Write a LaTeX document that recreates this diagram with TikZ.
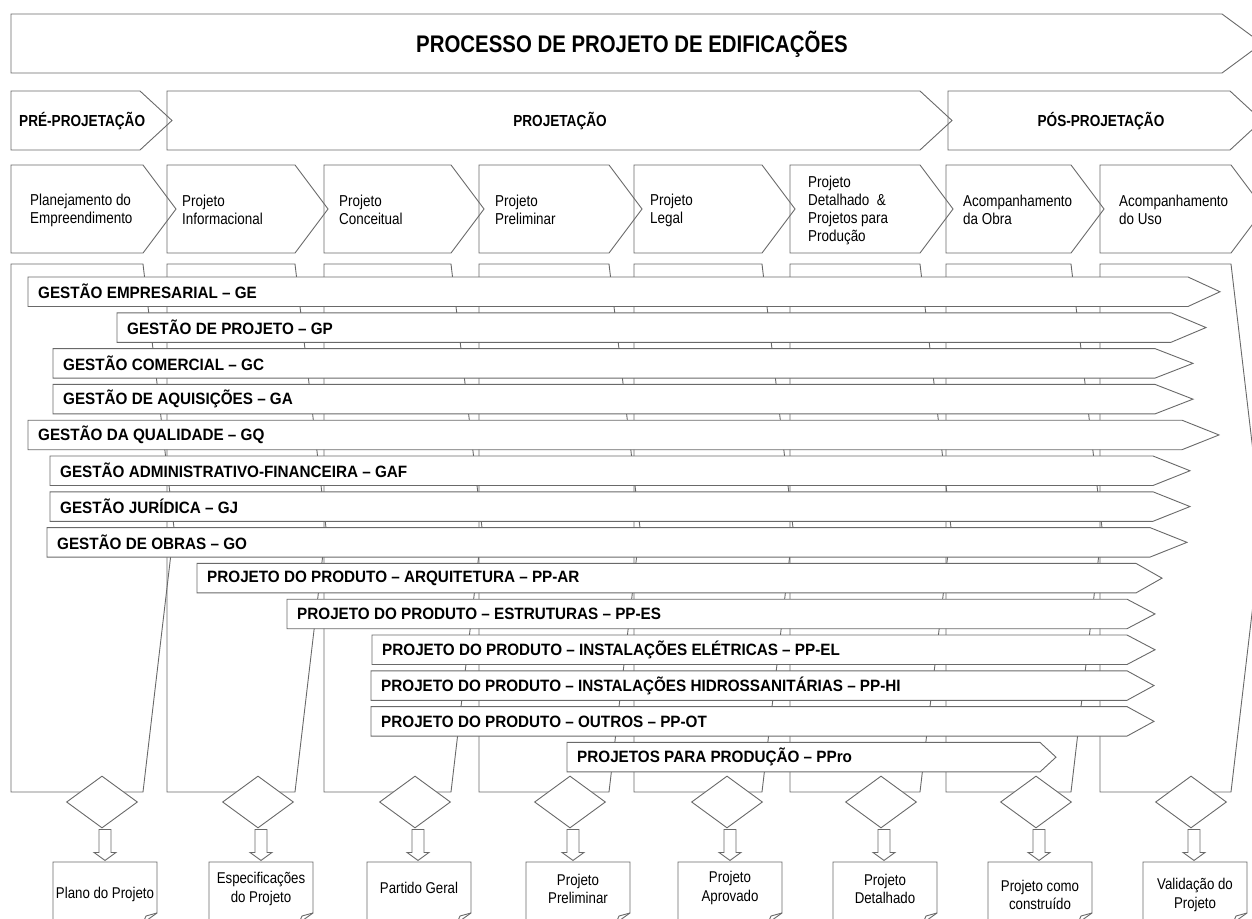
\documentclass[tikz,border=0pt]{standalone}
\usepackage{fontspec}
\setmainfont{Liberation Sans}
\newfontfamily\condf[FakeStretch=0.85]{Liberation Sans}
\newfontfamily\barf[FakeStretch=0.93]{Liberation Sans}
\usetikzlibrary{shapes.geometric,calc}
\definecolor{ln}{RGB}{105,105,105}
\begin{document}
\begin{tikzpicture}[x=1bp,y=-1bp,
  outline/.style={draw=ln,line width=0.9bp,line join=miter},
  shp/.style={outline,fill=white},
  titletext/.style={font=\condf\bfseries\fontsize{24bp}{28bp}\selectfont,inner sep=0},
  phasetext/.style={font=\condf\bfseries\fontsize{16bp}{19bp}\selectfont,inner sep=0},
  steptext/.style={font=\condf\fontsize{15.8bp}{18bp}\selectfont,align=left,inner sep=0,anchor=west},
  bartext/.style={font=\barf\bfseries\fontsize{16.4bp}{19bp}\selectfont,inner sep=0,anchor=west},
  doctext/.style={font=\condf\fontsize{15.6bp}{18.5bp}\selectfont,align=center,inner sep=0},
  gate/.style={diamond,shp,aspect=1.365,minimum width=71bp,minimum height=52bp,inner sep=0}]
\useasboundingbox (0,0) rectangle (1252,919);
\clip (0,0) rectangle (1252,919);

% title banner
\draw[outline] (11,14) -- (1222,14) -- (1262,43.5) -- (1222,73) -- (11,73) -- cycle;
\node[titletext] (title) at (632,44) {PROCESSO DE PROJETO DE EDIFICAÇÕES};

% phase banners
\draw[outline] (11,91) -- (140,91) -- (172,120.5) -- (140,150) -- (11,150) -- cycle;
\draw[outline] (167,91) -- (920,91) -- (952,120.5) -- (920,150) -- (167,150) -- cycle;
\draw[outline] (948,91) -- (1230,91) -- (1262,120.5) -- (1230,150) -- (948,150) -- cycle;
\node[phasetext,anchor=west] (pre) at (19,121) {PRÉ-PROJETAÇÃO};
\node[phasetext] (proj) at (560,121) {PROJETAÇÃO};
\node[phasetext] (pos) at (1101,121) {PÓS-PROJETAÇÃO};

% stage chevrons and the tall stage columns behind the activity bars
\foreach \i/\L/\R in {1/11/143,2/167/295,3/324/451,4/479/609,5/634/762,6/790/920,7/946/1071,8/1100/1231}{
  \draw[outline] (\L,165) -- (\R,165) -- (\R+33,209) -- (\R,253) -- (\L,253) -- cycle;
  \draw[outline] (\L,264) -- (\R,264) -- (\R+31,528) -- (\R,792) -- (\L,792) -- cycle;
}

% stage names
\foreach \i/\x/\txt in {1/30/{Planejamento do\\Empreendimento},
                        2/182/{Projeto\\Informacional},
                        3/339/{Projeto\\Conceitual},
                        4/495/{Projeto\\Preliminar},
                        5/650/{Projeto\\Legal},
                        6/808/{Projeto\\Detalhado\ \ \&\\Projetos para\\Produção},
                        7/963/{Acompanhamento\\da Obra},
                        8/1119/{Acompanhamento\\do Uso}}{
  \node[steptext] (stage\i) at (\x,210) {\txt};
}

% activity bars
\foreach \k/\L/\B/\T/\txt in {
   0/28/1188/1220/{GESTÃO EMPRESARIAL – GE},
   1/117/1171/1206/{GESTÃO DE PROJETO – GP},
   2/53/1155/1193/{GESTÃO COMERCIAL – GC},
   3/53/1155/1193/{GESTÃO DE AQUISIÇÕES – GA},
   4/28/1182/1219/{GESTÃO DA QUALIDADE – GQ},
   5/50/1153/1190/{GESTÃO ADMINISTRATIVO-FINANCEIRA – GAF},
   6/50/1153/1190/{GESTÃO JURÍDICA – GJ},
   7/47/1150/1187/{GESTÃO DE OBRAS – GO},
   8/197/1136/1162/{PROJETO DO PRODUTO – ARQUITETURA – PP-AR},
   9/287/1127/1155/{PROJETO DO PRODUTO – ESTRUTURAS – PP-ES},
   10/372/1127/1155/{PROJETO DO PRODUTO – INSTALAÇÕES ELÉTRICAS – PP-EL},
   11/371/1127/1154/{PROJETO DO PRODUTO – INSTALAÇÕES HIDROSSANITÁRIAS – PP-HI},
   12/371/1127/1154/{PROJETO DO PRODUTO – OUTROS – PP-OT},
   13/567/1040/1056/{PROJETOS PARA PRODUÇÃO – PPro}}{
  \pgfmathsetmacro\yt{277+35.8*\k}
  \pgfmathsetmacro\yb{\yt+29.5}
  \pgfmathsetmacro\ym{\yt+14.75}
  \draw[shp] (\L,\yt) -- (\B,\yt) -- (\T,\ym) -- (\B,\yb) -- (\L,\yb) -- cycle;
  \node[bartext] (bar\k) at (\L+10,\ym) {\txt};
}

% decision gates, hollow arrows and deliverable documents
\foreach \i/\c/\D/\ty/\txt in {1/102/53/894/{Plano do Projeto},
                              2/258/209/889/{Especificações\\do Projeto},
                              3/415/367/888/{Partido Geral},
                              4/570/526/889/{Projeto\\Preliminar},
                              5/727/678/888/{Projeto\\Aprovado},
                              6/881/833/889/{Projeto\\Detalhado},
                              7/1036/988/895/{Projeto como\\construído},
                              8/1191/1143/895/{Validação do\\Projeto}}{
  \node[gate] (gate\i) at (\c,802) {};
  \draw[shp] ($(gate\i.south)+(-3,1)$) -- ++(12,0) -- ++(0,23) -- ++(5,0)
     -- ++(-11,8) -- ++(-11,-8) -- ++(5,0) -- cycle;
  \draw[shp] (\D,862) -- (\D+104,862) -- (\D+104,913) -- (\D+90,923) -- (\D,923) -- cycle;
  \draw[outline] (\D+104,913) -- (\D+93,916) -- (\D+90,923);
  \node[doctext] (doc\i) at (\D+52,\ty) {\txt};
}
\end{tikzpicture}
\end{document}
